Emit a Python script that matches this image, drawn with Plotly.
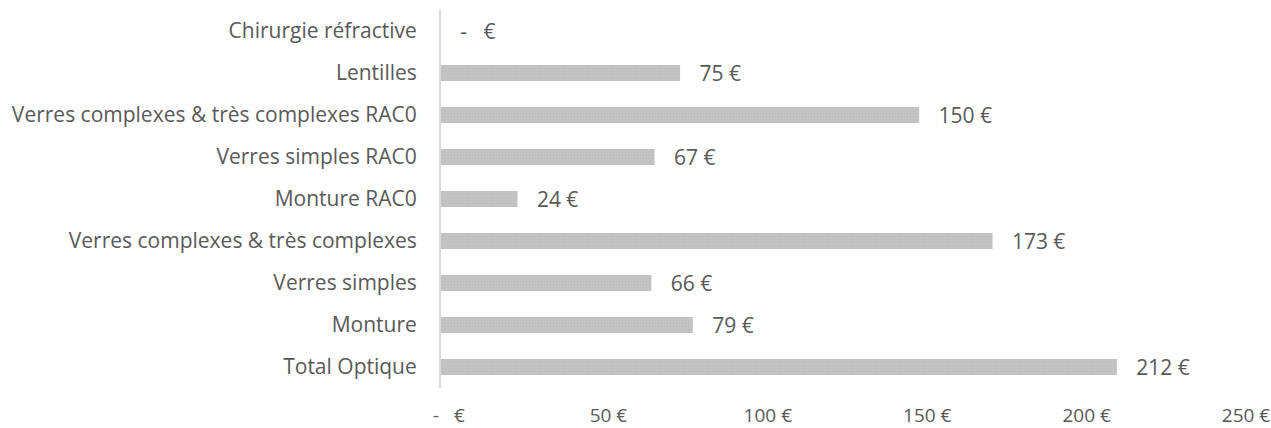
import plotly.graph_objects as go

categories = ["Total Optique", "Monture", "Verres simples", "Verres complexes & très complexes",
              "Monture RAC0", "Verres simples RAC0", "Verres complexes & très complexes RAC0",
              "Lentilles", "Chirurgie réfractive"]
values = [212, 79, 66, 173, 24, 67, 150, 75, 0]
value_labels = ["212 €", "79 €", "66 €", "173 €", "24 €", "67 €", "150 €", "75 €", "-   €"]
tick_vals = [0, 50, 100, 150, 200, 250]
tick_text = ["-   €", "50 €", "100 €", "150 €", "200 €", "250 €"]

FONT = "Open Sans"
GREY = "#595959"
NB = "\u00a0"

fig = go.Figure(go.Bar(
    y=categories, x=values, orientation="h",
    width=0.38,
    marker=dict(color="#c0c0c0", line=dict(width=0),
                pattern=dict(shape=".", fgcolor="#b4b4b4", bgcolor="#c4c4c4", size=3, solidity=0.3)),
    text=[NB * 3 + t for t in value_labels], textposition="outside", cliponaxis=False,
    constraintext="none",
    textfont=dict(family=FONT, size=21, color=GREY),
    hoverinfo="skip",
))

fig.update_layout(
    width=1271, height=428,
    paper_bgcolor="white", plot_bgcolor="white",
    margin=dict(l=441, r=33, t=10, b=40),
    showlegend=False,
    font=dict(family=FONT, size=21, color=GREY),
)
fig.update_xaxes(range=[0, 250], tickvals=tick_vals, ticktext=tick_text,
                 showgrid=False, zeroline=False, showline=False, automargin=False,
                 ticklabelshift=8, ticklabelstandoff=14, ticklabeloverflow="allow",
                 tickfont=dict(family=FONT, size=19, color=GREY))
fig.update_yaxes(showgrid=False, zeroline=False, showline=True, linecolor="#d9d9d9", linewidth=2,
                 ticks="", ticklabelstandoff=18, automargin=False,
                 tickfont=dict(family=FONT, size=21, color=GREY))
fig.update_traces(textangle=0)

fig.write_html("out.html", config={"displayModeBar": False},
               post_script="document.body.style.margin='0px';")
